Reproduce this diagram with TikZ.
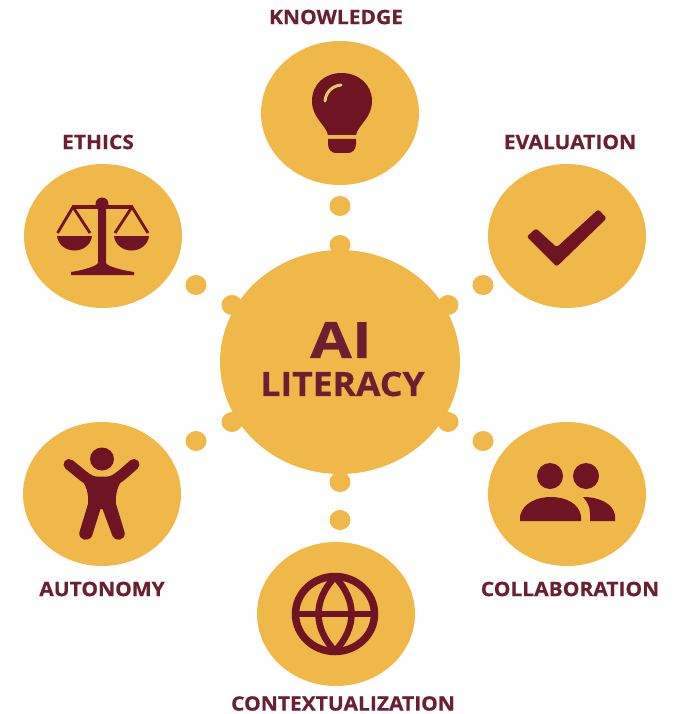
\documentclass[tikz,border=0pt]{standalone}
\usepackage{fontspec}
\setmainfont{Open Sans}[BoldFeatures={FakeStretch=1.06,FakeBold=0.5}]
\usetikzlibrary{shapes.geometric}
\definecolor{gold}{HTML}{F0B849}
\definecolor{wine}{HTML}{6E1423}
\definecolor{labelwine}{HTML}{6B2032}
\tikzset{
  bubble/.style={ellipse,fill=gold,inner sep=0pt,minimum width=158pt,minimum height=144pt},
  hub/.style={ellipse,fill=gold,inner sep=0pt,minimum width=240pt,minimum height=224pt},
  dot/.style={ellipse,fill=gold,inner sep=0pt,minimum width=21pt,minimum height=20pt},
  lab/.style={text=labelwine,font=\fontsize{19.8}{21}\selectfont\bfseries,inner sep=0pt,anchor=center},
  ink/.style={fill=wine,draw=none},
  line/.style={draw=wine,line width=#1}
}
\begin{document}
\begin{tikzpicture}[x=1pt,y=-1pt]
\useasboundingbox (0,0) rectangle (673,714);
% dots attached to hub
\node[dot] (d1) at (340,245) {};
\node[dot] (d2) at (232,305) {};
\node[dot] (d3) at (448,305) {};
\node[dot] (d4) at (232,422) {};
\node[dot] (d5) at (448,422) {};
\node[dot] (d6) at (340,482) {};
\node[hub] (hub) at (340,362) {};
\node[text=labelwine,font=\fontsize{50}{52}\selectfont\bfseries,inner sep=0pt] (ai) at (341,340) {\scalebox{1.14}[1]{AI}};
\node[text=labelwine,font=\fontsize{33.5}{35}\selectfont\bfseries,inner sep=0pt] (lit) at (342.5,384) {LITERACY};
% free dots
\node[dot] (f1) at (340,206) {};
\node[dot] (f2) at (196,285) {};
\node[dot] (f3) at (483,285) {};
\node[dot] (f4) at (196,441) {};
\node[dot] (f5) at (483,441) {};
\node[dot] (f6) at (340,520) {};
% bubbles
\node[bubble] (know) at (340,113) {};
\node[bubble] (eth) at (103,236) {};
\node[bubble] (eval) at (567,236) {};
\node[bubble] (auto) at (102,494) {};
\node[bubble] (coll) at (567,494) {};
\node[bubble] (ctx) at (336,614) {};
% labels
\node[lab] (l1) at (336,17) {KNOWLEDGE};
\node[lab] (l2) at (98,142) {ETHICS};
\node[lab] (l3) at (570,142) {EVALUATION};
\node[lab] (l4) at (102,589) {AUTONOMY};
\node[lab] (l5) at (570,589) {COLLABORATION};
\node[lab] (l6) at (343,703.5) {CONTEXTUALIZATION};
% bulb
\fill[ink] (328,135) .. controls (326,125) and (312,118) .. (312,101)
  .. controls (312,84) and (325,73) .. (341.5,73)
  .. controls (359,73) and (372,85) .. (372,101)
  .. controls (372,118) and (358,125) .. (356,135) -- cycle;
\fill[ink] (328,139) -- (356,139) -- (356,144) .. controls (356,150) and (352,153) .. (348,153)
  -- (336,153) .. controls (332,153) and (328,150) .. (328,144) -- cycle;
\draw[gold!80!white,line width=3pt,line cap=round] (325,101) .. controls (326,92) and (332,86) .. (341,85);
% scales
\fill[ink] (102,204) circle (6.5);
\fill[ink] (98,204) -- (106,204) -- (106,263) .. controls (107,266) and (120,270) .. (134,272) -- (134,275) -- (71,275) -- (71,272)
  .. controls (84,270) and (97,266) .. (98,263) -- cycle;
\draw[line=3.2pt] (72,207) -- (133,207);
\draw[line=2.8pt,line join=round] (57.5,233) -- (73,207) -- (90,233);
\draw[line=2.8pt,line join=round] (115,233) -- (132,207) -- (148,233);
\fill[ink] (57,236) -- (92,236) .. controls (91,245) and (83,250.5) .. (74.5,250.5) .. controls (66,250.5) and (58,245) .. (57,236) -- cycle;
\fill[ink] (114,236) -- (149,236) .. controls (148,245) and (140,250.5) .. (131.5,250.5) .. controls (123,250.5) and (115,245) .. (114,236) -- cycle;
% check
\fill[ink,rounded corners=2.5pt] (526.7,236.7) -- (536,228.3) -- (556.7,247.3) -- (598.3,209.3) -- (606.7,218.3) -- (556.7,266.7) -- cycle;
% person
\fill[ink] (102,459) ellipse (12 and 11.5);
\draw[line=11pt,line cap=round,line join=round] (69,464.5) .. controls (78,471) and (88,482) .. (96,482) -- (108,482) .. controls (116,482) and (126,471) .. (134,464.5);
\fill[ink] (80,478) -- (124,478) .. controls (118,484) and (115,494) .. (116,504) -- (124.5,532)
  .. controls (126,541) and (115,542) .. (112.5,536) -- (102.5,509) -- (100.5,509) -- (92,536)
  .. controls (89,542) and (78,541) .. (79.5,532) -- (88,504) .. controls (89,494) and (86,484) .. (80,478) -- cycle;
% people
\fill[ink] (550,476) circle (13);
\fill[ink] (586,476) circle (13);
\fill[ink] (520,521) -- (520,516) .. controls (523,503) and (537,497) .. (551,497) .. controls (565,497) and (579,503) .. (581,516) -- (581,521) -- cycle;
\fill[ink] (590,521) -- (590,513) .. controls (590,506) and (586,500) .. (583,497) .. controls (600,497) and (613,504) .. (615,515) -- (615,521) -- cycle;
% globe
\draw[line=7.5pt] (335,614) ellipse (39.5 and 37.5);
\draw[line=6.5pt] (335,577) .. controls (313,600) and (313,628) .. (335,651);
\draw[line=6.5pt] (335,577) .. controls (357,600) and (357,628) .. (335,651);
\draw[line=6pt] (296,614) -- (374,614);
\end{tikzpicture}
\end{document}
